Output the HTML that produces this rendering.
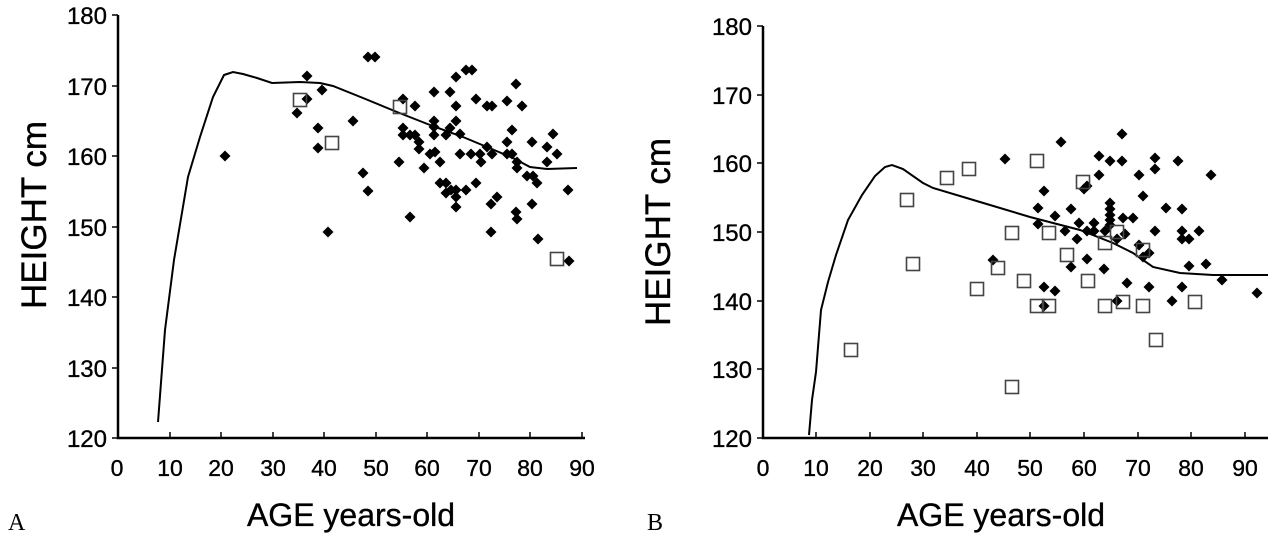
<!DOCTYPE html>
<html><head><meta charset="utf-8"><style>
html,body{margin:0;padding:0;background:#fff;}
svg{display:block;}
text{font-family:"Liberation Sans",Arial,sans-serif;fill:#000;stroke:#000;stroke-width:0.35;}
</style></head><body>
<svg width="1280" height="540" viewBox="0 0 1280 540" xmlns="http://www.w3.org/2000/svg">
<defs>
<path id="d" d="M0,-5.5 L5.5,0 L0,5.5 L-5.5,0 Z" fill="#000"/>
<rect id="s" x="-6.5" y="-6.5" width="13" height="13" fill="none" stroke="#444" stroke-width="1.6"/>
</defs>
<!-- Panel A axes -->
<g stroke="#000" fill="none">
<path d="M118,15 L118,438 L585,438" stroke-width="2.5"/>
<path d="M112,15H118M112,86H118M112,156H118M112,227H118M112,297H118M112,368H118M112,438H118" stroke-width="1.5"/>
<path d="M170,438V432M221,438V432M273,438V432M324,438V432M376,438V432M427,438V432M479,438V432M530,438V432M582,438V432" stroke-width="1.5"/>
<path d="M158,422 L165,330 L174,260 L188,177 L200,137 L213,97 L224,75 L233,72 L243,74 L257,78 L272,83 L300,82 L320,83 L333,86 L363,98 L397,112 L430,125 L463,137 L487,147 L513,158 L530,167 L547,169 L577,168" stroke-width="2"/>
</g>
<g font-size="24" text-anchor="end">
<text x="107" y="24">180</text><text x="107" y="95">170</text><text x="107" y="165">160</text><text x="107" y="236">150</text><text x="107" y="306">140</text><text x="107" y="377">130</text><text x="107" y="447">120</text>
</g>
<g font-size="23" text-anchor="middle">
<text x="117" y="476">0</text><text x="170" y="476">10</text><text x="221" y="476">20</text><text x="273" y="476">30</text><text x="324" y="476">40</text><text x="376" y="476">50</text><text x="427" y="476">60</text><text x="479" y="476">70</text><text x="530" y="476">80</text><text x="582" y="476">90</text>
</g>
<text x="351" y="526" font-size="32" text-anchor="middle">AGE years-old</text>
<text transform="translate(46,215) rotate(-90)" font-size="35" text-anchor="middle">HEIGHT cm</text>
<text x="8" y="530" font-size="24" style="font-family:'Liberation Serif',serif;stroke-width:0">A</text>
<g>
<use href="#d" x="225" y="156"/><use href="#d" x="328" y="232"/><use href="#d" x="368" y="57"/><use href="#d" x="375" y="57"/>
<use href="#d" x="307" y="76"/><use href="#d" x="322" y="90"/><use href="#d" x="307" y="99"/><use href="#d" x="297" y="113"/><use href="#d" x="318" y="128"/><use href="#d" x="318" y="148"/><use href="#d" x="353" y="121"/><use href="#d" x="363" y="173"/><use href="#d" x="368" y="191"/><use href="#d" x="403" y="99"/><use href="#d" x="415" y="106"/><use href="#d" x="434" y="92"/><use href="#d" x="450" y="92"/><use href="#d" x="456" y="77"/><use href="#d" x="466" y="70"/><use href="#d" x="472" y="70"/><use href="#d" x="456" y="106"/><use href="#d" x="476" y="99"/><use href="#d" x="487" y="106"/><use href="#d" x="492" y="106"/><use href="#d" x="507" y="101"/><use href="#d" x="516" y="84"/><use href="#d" x="522" y="106"/><use href="#d" x="434" y="121"/><use href="#d" x="434" y="127"/><use href="#d" x="456" y="121"/><use href="#d" x="450" y="128"/><use href="#d" x="446" y="135"/><use href="#d" x="434" y="135"/><use href="#d" x="403" y="128"/><use href="#d" x="403" y="135"/><use href="#d" x="410" y="135"/><use href="#d" x="415" y="135"/><use href="#d" x="419" y="142"/><use href="#d" x="419" y="149"/><use href="#d" x="460" y="134"/><use href="#d" x="512" y="130"/><use href="#d" x="507" y="142"/><use href="#d" x="532" y="142"/><use href="#d" x="553" y="134"/><use href="#d" x="547" y="147"/><use href="#d" x="557" y="154"/><use href="#d" x="547" y="162"/><use href="#d" x="487" y="147"/><use href="#d" x="492" y="154"/><use href="#d" x="480" y="154"/><use href="#d" x="471" y="154"/><use href="#d" x="460" y="154"/><use href="#d" x="481" y="162"/><use href="#d" x="507" y="154"/><use href="#d" x="512" y="154"/><use href="#d" x="517" y="162"/><use href="#d" x="517" y="168"/><use href="#d" x="430" y="154"/><use href="#d" x="435" y="152"/><use href="#d" x="440" y="162"/><use href="#d" x="399" y="162"/><use href="#d" x="424" y="168"/><use href="#d" x="527" y="176"/><use href="#d" x="533" y="176"/><use href="#d" x="537" y="183"/><use href="#d" x="568" y="190"/><use href="#d" x="440" y="183"/><use href="#d" x="446" y="183"/><use href="#d" x="446" y="193"/><use href="#d" x="451" y="190"/><use href="#d" x="456" y="190"/><use href="#d" x="456" y="197"/><use href="#d" x="456" y="207"/><use href="#d" x="466" y="190"/><use href="#d" x="476" y="183"/><use href="#d" x="497" y="197"/><use href="#d" x="491" y="204"/><use href="#d" x="532" y="204"/><use href="#d" x="516" y="212"/><use href="#d" x="517" y="219"/><use href="#d" x="491" y="232"/><use href="#d" x="410" y="217"/><use href="#d" x="538" y="239"/><use href="#d" x="569" y="261"/>
<use href="#s" x="300" y="100"/><use href="#s" x="332" y="143"/><use href="#s" x="400" y="107"/><use href="#s" x="557" y="259"/>
</g>

<!-- Panel B axes -->
<g stroke="#000" fill="none">
<path d="M763,26 L763,438 L1268,438" stroke-width="2.5"/>
<path d="M757,26H763M757,95H763M757,163H763M757,232H763M757,301H763M757,369H763M757,438H763" stroke-width="1.5"/>
<path d="M816,438V432M870,438V432M923,438V432M977,438V432M1030,438V432M1084,438V432M1138,438V432M1191,438V432M1245,438V432" stroke-width="1.5"/>
<path d="M809,435 L812,400 L816,372 L821,310 L828,282 L836,255 L848,220 L862,195 L875,176 L885,167 L892,165 L903,169 L923,183 L933,188 L980,202 L1030,217 L1080,230 L1113,243 L1133,253 L1153,267 L1180,273 L1213,275 L1268,275" stroke-width="2"/>
</g>
<g font-size="24" text-anchor="end">
<text x="752" y="35">180</text><text x="752" y="104">170</text><text x="752" y="172">160</text><text x="752" y="241">150</text><text x="752" y="310">140</text><text x="752" y="378">130</text><text x="752" y="447">120</text>
</g>
<g font-size="23" text-anchor="middle">
<text x="763" y="476">0</text><text x="816" y="476">10</text><text x="870" y="476">20</text><text x="923" y="476">30</text><text x="977" y="476">40</text><text x="1030" y="476">50</text><text x="1084" y="476">60</text><text x="1138" y="476">70</text><text x="1191" y="476">80</text><text x="1245" y="476">90</text>
</g>
<text x="1001" y="526" font-size="32" text-anchor="middle">AGE years-old</text>
<text transform="translate(670,232) rotate(-90)" font-size="35" text-anchor="middle">HEIGHT cm</text>
<text x="647" y="530" font-size="24" style="font-family:'Liberation Serif',serif;stroke-width:0">B</text>
<g>
<use href="#d" x="1005" y="159"/><use href="#d" x="1061" y="142"/><use href="#d" x="1122" y="134"/><use href="#d" x="1099" y="156"/><use href="#d" x="1110" y="161"/><use href="#d" x="1122" y="161"/><use href="#d" x="1155" y="158"/><use href="#d" x="1155" y="169"/><use href="#d" x="1178" y="161"/><use href="#d" x="1211" y="175"/><use href="#d" x="1099" y="175"/><use href="#d" x="1139" y="175"/><use href="#d" x="1084" y="189"/><use href="#d" x="1087" y="186"/><use href="#d" x="1044" y="191"/><use href="#d" x="1143" y="196"/><use href="#d" x="1110" y="203"/><use href="#d" x="1110" y="209"/><use href="#d" x="1110" y="215"/><use href="#d" x="1110" y="220"/><use href="#d" x="1110" y="225"/><use href="#d" x="1038" y="208"/><use href="#d" x="1071" y="209"/><use href="#d" x="1055" y="216"/><use href="#d" x="1123" y="218"/><use href="#d" x="1133" y="218"/><use href="#d" x="1166" y="208"/><use href="#d" x="1182" y="209"/><use href="#d" x="1038" y="224"/><use href="#d" x="1065" y="231"/><use href="#d" x="1079" y="223"/><use href="#d" x="1094" y="223"/><use href="#d" x="1087" y="231"/><use href="#d" x="1094" y="231"/><use href="#d" x="1105" y="231"/><use href="#d" x="1125" y="234"/><use href="#d" x="1117" y="239"/><use href="#d" x="1077" y="239"/><use href="#d" x="1155" y="231"/><use href="#d" x="1182" y="231"/><use href="#d" x="1199" y="231"/><use href="#d" x="1182" y="239"/><use href="#d" x="1189" y="239"/><use href="#d" x="1139" y="245"/><use href="#d" x="1149" y="253"/><use href="#d" x="1143" y="257"/><use href="#d" x="993" y="260"/><use href="#d" x="1087" y="259"/><use href="#d" x="1071" y="267"/><use href="#d" x="1104" y="269"/><use href="#d" x="1189" y="266"/><use href="#d" x="1206" y="264"/><use href="#d" x="1222" y="280"/><use href="#d" x="1127" y="283"/><use href="#d" x="1149" y="287"/><use href="#d" x="1182" y="287"/><use href="#d" x="1044" y="287"/><use href="#d" x="1055" y="291"/><use href="#d" x="1044" y="306"/><use href="#d" x="1117" y="301"/><use href="#d" x="1172" y="301"/><use href="#d" x="1257" y="293"/>
<use href="#s" x="851" y="350"/><use href="#s" x="907" y="200"/><use href="#s" x="913" y="264"/><use href="#s" x="947" y="178"/><use href="#s" x="969" y="169"/><use href="#s" x="1037" y="161"/><use href="#s" x="1012" y="233"/><use href="#s" x="1049" y="233"/><use href="#s" x="998" y="268"/><use href="#s" x="977" y="289"/><use href="#s" x="1024" y="281"/><use href="#s" x="1037" y="306"/><use href="#s" x="1049" y="306"/><use href="#s" x="1067" y="255"/><use href="#s" x="1083" y="182"/><use href="#s" x="1088" y="281"/><use href="#s" x="1105" y="306"/><use href="#s" x="1105" y="243"/><use href="#s" x="1117" y="232"/><use href="#s" x="1123" y="302"/><use href="#s" x="1143" y="306"/><use href="#s" x="1143" y="250"/><use href="#s" x="1195" y="302"/><use href="#s" x="1156" y="340"/><use href="#s" x="1012" y="387"/>
</g>
</svg>
</body></html>
